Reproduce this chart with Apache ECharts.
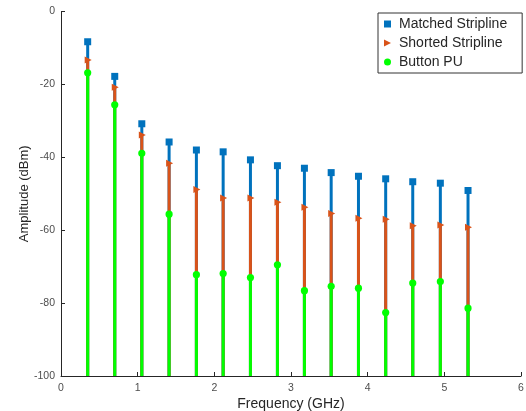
<!DOCTYPE html>
<html>
<head>
<meta charset="utf-8">
<script src="https://cdn.jsdelivr.net/npm/echarts@6/dist/echarts.min.js"></script>
<style>html,body{margin:0;padding:0;background:#fff}#c{width:526px;height:411px}</style>
</head>
<body>
<div id="c"></div>
<script>
const freqs = [0.348, 0.701, 1.054, 1.410, 1.766, 2.115, 2.471, 2.823, 3.175, 3.524, 3.880, 4.235, 4.588, 4.948, 5.309];
const matched = [-8.3, -17.8, -30.8, -35.8, -38.0, -38.5, -40.7, -42.3, -43.0, -44.2, -45.2, -45.9, -46.7, -47.1, -49.1];
const shorted = [-13.3, -20.8, -33.9, -41.6, -48.8, -51.2, -51.2, -52.3, -53.7, -55.4, -56.7, -57.0, -58.8, -58.6, -59.2];
const button = [-16.8, -25.6, -38.9, -55.6, -72.2, -71.9, -73.0, -69.5, -76.6, -75.4, -75.9, -82.6, -74.5, -74.1, -81.4];
const xTicks = [0, 1, 2, 3, 4, 5, 6];
const yTicks = [-100, -80, -60, -40, -20, 0];

const FONT = 'Liberation Sans';
const C_BLUE = '#0072BD', C_ORANGE = '#D95319', C_GREEN = '#00FF00';

function stemSeries(name, values, color, shape) {
  return {
    name: name,
    type: 'custom',
    itemStyle: { color: color },
    data: freqs.map((f, i) => [f, values[i]]),
    renderItem: function (params, api) {
      const p = api.coord([api.value(0), api.value(1)]);
      const b = api.coord([api.value(0), -100]);
      let marker;
      if (shape === 'square') {
        marker = { type: 'rect', shape: { x: p[0] - 3.5, y: p[1] - 3.5, width: 7, height: 7 }, style: { fill: color } };
      } else if (shape === 'tri') {
        marker = { type: 'polygon', shape: { points: [[p[0] - 3, p[1] - 3.5], [p[0] + 4, p[1]], [p[0] - 3, p[1] + 3.5]] }, style: { fill: color } };
      } else {
        marker = { type: 'circle', shape: { cx: p[0], cy: p[1], r: 3.6 }, style: { fill: color } };
      }
      return {
        type: 'group',
        children: [
          { type: 'line', shape: { x1: p[0], y1: p[1], x2: b[0], y2: b[1] }, style: { stroke: color, lineWidth: 3 } },
          marker
        ]
      };
    }
  };
}

const chart = echarts.init(document.getElementById('c'));
chart.setOption({
  animation: false,
  grid: { left: 61, right: 5, top: 11.5, bottom: 35, containLabel: false, outerBoundsMode: 'none' },
  legend: {
    orient: 'vertical',
    left: 378, top: 13,
    padding: [4, 15, 4, 6],
    itemGap: 5,
    itemWidth: 7, itemHeight: 7,
    borderColor: '#333', borderWidth: 1,
    backgroundColor: '#fff',
    textStyle: { fontFamily: FONT, fontSize: 14, color: '#262626', lineHeight: 14, padding: [0, 0, 0, 3] },
    data: [
      { name: 'Matched Stripline', icon: 'rect' },
      { name: 'Shorted Stripline', icon: 'path://M0,0 L10,5 L0,10 Z' },
      { name: 'Button PU', icon: 'circle' }
    ]
  },
  xAxis: {
    type: 'value', min: xTicks[0], max: xTicks[xTicks.length - 1], interval: 1,
    name: 'Frequency (GHz)', nameLocation: 'middle', nameGap: 21, nameMoveOverlap: false,
    nameTextStyle: { fontFamily: FONT, fontSize: 14, color: '#262626' },
    axisLine: { onZero: false, lineStyle: { color: '#262626', width: 1 } },
    axisTick: { inside: true, length: 4, lineStyle: { color: '#262626' } },
    axisLabel: { fontFamily: FONT, fontSize: 10.5, color: '#4d4d4d', margin: 7 },
    splitLine: { show: false }
  },
  yAxis: {
    type: 'value', min: yTicks[0], max: yTicks[yTicks.length - 1], interval: 20,
    name: 'Amplitude (dBm)', nameLocation: 'middle', nameGap: 30, nameMoveOverlap: false,
    nameTextStyle: { fontFamily: FONT, fontSize: 13, color: '#262626' },
    axisLine: { show: true, onZero: false, lineStyle: { color: '#262626', width: 1 } },
    axisTick: { show: true, inside: true, length: 4, lineStyle: { color: '#262626' } },
    axisLabel: { fontFamily: FONT, fontSize: 10.5, color: '#4d4d4d', margin: 6 },
    splitLine: { show: false }
  },
  series: [
    stemSeries('Matched Stripline', matched, C_BLUE, 'square'),
    stemSeries('Shorted Stripline', shorted, C_ORANGE, 'tri'),
    stemSeries('Button PU', button, C_GREEN, 'circle')
  ]
});
</script>
</body>
</html>
